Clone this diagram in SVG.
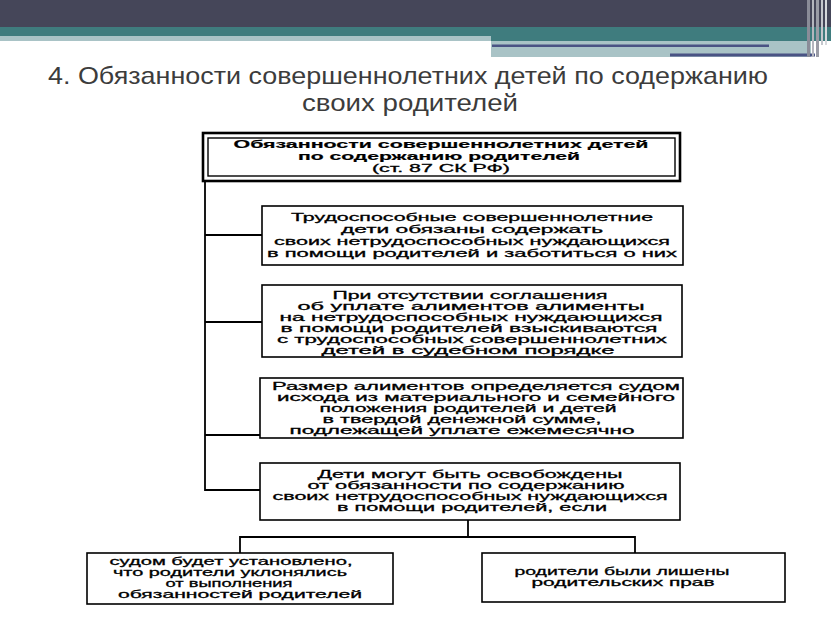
<svg xmlns="http://www.w3.org/2000/svg" width="831" height="623" viewBox="0 0 831 623">
<style>
.box{fill:#fff;stroke:#000;stroke-width:1.6}
.c{fill:none;stroke:#000;stroke-width:1.8}
.t{font-family:"Liberation Sans",Arial,sans-serif;font-size:11px;fill:#000;stroke:#000;stroke-width:0.3;text-anchor:middle}
.tb{font-family:"Liberation Sans",Arial,sans-serif;font-size:11.5px;font-weight:bold;fill:#000;stroke:#000;stroke-width:0.2;text-anchor:middle}
.title{font-family:"Liberation Sans Narrow","Liberation Sans",Arial,sans-serif;font-size:24px;fill:#3c3c3c;text-anchor:middle}
</style>
<rect width="831" height="623" fill="#fff"/>
<g id="header">
<rect x="0" y="0" width="831" height="27" fill="#454659"/>
<rect x="0" y="27" width="491" height="9" fill="#3f7c7e"/>
<rect x="0" y="36" width="491" height="5" fill="#a9c3c6"/>
<rect x="491" y="27" width="340" height="14" fill="#3f7c7e"/>
<rect x="491" y="41" width="320" height="16" fill="#a9c3c6"/>
<rect x="492" y="44.5" width="277" height="2.5" fill="#4a5384"/>
<rect x="670" y="53.5" width="145" height="3" fill="#4a5384"/>
<rect x="807" y="0" width="3" height="57" fill="#8a8c98"/>
<rect x="812" y="0" width="2" height="57" fill="#b4b6be"/>
<rect x="816" y="0" width="3" height="57" fill="#9a9ca6"/>
<rect x="821" y="0" width="2" height="45" fill="#c4c6cc"/>
<rect x="825" y="0" width="2" height="45" fill="#d6d8dc"/>
</g>
<g id="title">
<text class="title" x="408" y="84" textLength="720" lengthAdjust="spacingAndGlyphs">4. Обязанности совершеннолетних детей по содержанию</text>
<text class="title" x="410" y="111" textLength="216" lengthAdjust="spacingAndGlyphs">своих родителей</text>
</g>
<g id="connectors">
<path class="c" d="M205,181 V490 H260"/>
<path class="c" d="M205,235 H262"/>
<path class="c" d="M205,322 H262"/>
<path class="c" d="M205,435 H260"/>
<path class="c" d="M468,520 V537"/>
<path class="c" d="M240,553 V537 H635 V553"/>
</g>
<g id="n0">
<rect x="203" y="133" width="477" height="48" fill="#fff" stroke="#000" stroke-width="2.6"/>
<rect x="208" y="138" width="467" height="38" fill="none" stroke="#000" stroke-width="1.4"/>
<text class="tb" x="441" y="148" textLength="415" lengthAdjust="spacingAndGlyphs">Обязанности совершеннолетних детей</text>
<text class="tb" x="439" y="160" textLength="282" lengthAdjust="spacingAndGlyphs">по содержанию родителей</text>
<text class="t" x="441" y="172" textLength="138" lengthAdjust="spacingAndGlyphs">(ст. 87 СК РФ)</text>
</g>
<g id="n1">
<rect class="box" x="262" y="206" width="421" height="59"/>
<text class="t" x="472" y="221" textLength="362" lengthAdjust="spacingAndGlyphs">Трудоспособные совершеннолетние</text>
<text class="t" x="472" y="233" textLength="262" lengthAdjust="spacingAndGlyphs">дети обязаны содержать</text>
<text class="t" x="472" y="245" textLength="396" lengthAdjust="spacingAndGlyphs">своих нетрудоспособных нуждающихся</text>
<text class="t" x="472" y="257" textLength="410" lengthAdjust="spacingAndGlyphs">в помощи родителей и заботиться о них</text>
</g>
<g id="n2">
<rect class="box" x="262" y="285" width="420" height="72"/>
<text class="t" x="470" y="299" textLength="275" lengthAdjust="spacingAndGlyphs">При отсутствии соглашения</text>
<text class="t" x="471" y="310" textLength="347" lengthAdjust="spacingAndGlyphs">об уплате алиментов алименты</text>
<text class="t" x="471" y="321" textLength="383" lengthAdjust="spacingAndGlyphs">на нетрудоспособных нуждающихся</text>
<text class="t" x="469" y="332" textLength="377" lengthAdjust="spacingAndGlyphs">в помощи родителей взыскиваются</text>
<text class="t" x="472" y="343" textLength="390" lengthAdjust="spacingAndGlyphs">с трудоспособных совершеннолетних</text>
<text class="t" x="468" y="354" textLength="293" lengthAdjust="spacingAndGlyphs">детей в судебном порядке</text>
</g>
<g id="n3">
<rect class="box" x="260" y="378" width="423" height="60"/>
<text class="t" x="476" y="390" textLength="408" lengthAdjust="spacingAndGlyphs">Размер алиментов определяется судом</text>
<text class="t" x="476" y="401" textLength="398" lengthAdjust="spacingAndGlyphs">исхода из материального и семейного</text>
<text class="t" x="468" y="412" textLength="297" lengthAdjust="spacingAndGlyphs">положения родителей и детей</text>
<text class="t" x="462" y="423" textLength="279" lengthAdjust="spacingAndGlyphs">в твердой денежной сумме,</text>
<text class="t" x="462" y="434" textLength="345" lengthAdjust="spacingAndGlyphs">подлежащей уплате ежемесячно</text>
</g>
<g id="n4">
<rect class="box" x="260" y="463" width="420" height="57"/>
<text class="t" x="470" y="478" textLength="305" lengthAdjust="spacingAndGlyphs">Дети могут быть освобождены</text>
<text class="t" x="466" y="489" textLength="317" lengthAdjust="spacingAndGlyphs">от обязанности по содержанию</text>
<text class="t" x="470" y="500" textLength="395" lengthAdjust="spacingAndGlyphs">своих нетрудоспособных нуждающихся</text>
<text class="t" x="472" y="511" textLength="270" lengthAdjust="spacingAndGlyphs">в помощи родителей, если</text>
</g>
<g id="n5">
<rect class="box" x="87" y="553" width="306" height="51"/>
<text class="t" x="231" y="565" textLength="243" lengthAdjust="spacingAndGlyphs">судом будет установлено,</text>
<text class="t" x="230" y="576" textLength="234" lengthAdjust="spacingAndGlyphs">что родители уклонялись</text>
<text class="t" x="229" y="587" textLength="127" lengthAdjust="spacingAndGlyphs">от выполнения</text>
<text class="t" x="240" y="598" textLength="244" lengthAdjust="spacingAndGlyphs">обязанностей родителей</text>
</g>
<g id="n6">
<rect class="box" x="482" y="553" width="303" height="49"/>
<text class="t" x="622" y="575" textLength="215" lengthAdjust="spacingAndGlyphs">родители были лишены</text>
<text class="t" x="623" y="586" textLength="183" lengthAdjust="spacingAndGlyphs">родительских прав</text>
</g>
</svg>
